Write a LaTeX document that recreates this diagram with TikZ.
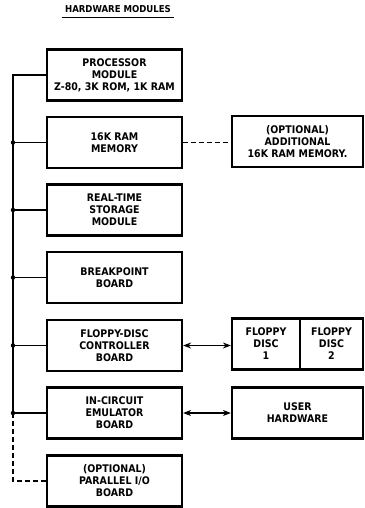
\documentclass[tikz,border=0pt]{standalone}
\usepackage{fontspec}
\setmainfont{DejaVu Sans Condensed}
\usetikzlibrary{arrows.meta}
\tikzset{
  box/.style={draw, line width=2.2pt, minimum width=135pt, minimum height=51pt, inner sep=0pt,
    align=center, font=\bfseries\fontsize{10.5}{12}\selectfont},
  rbox/.style={box, minimum width=131pt},
  conn/.style={line width=1.5pt},
  dconn/.style={conn, dash pattern=on 5pt off 3pt},
  dot/.style={circle, fill, inner sep=0pt, minimum size=4.5pt},
  biarrow/.style={conn, {Stealth[length=8pt,width=6pt]}-{Stealth[length=8pt,width=6pt]}}
}
\begin{document}
\begin{tikzpicture}[x=1pt,y=-1pt]
\useasboundingbox (0,0) rectangle (364,508);
\node[font=\bfseries\fontsize{9.5}{11}\selectfont] (title) at (118,9.5) {HARDWARE MODULES};
\draw[line width=1.2pt] ([yshift=-1.2pt]title.south west) -- ([yshift=-1.2pt]title.south east);
\node[box] (proc) at (114.5,75) {PROCESSOR\\MODULE\\Z-80, 3K ROM, 1K RAM};
\node[box] (ram) at (114.5,142.5) {16K RAM\\MEMORY};
\node[box] (rt) at (114.5,210) {REAL-TIME\\STORAGE\\MODULE};
\node[box] (bp) at (114.5,277.5) {BREAKPOINT\\BOARD};
\node[box] (fdc) at (114.5,345.5) {FLOPPY-DISC\\CONTROLLER\\BOARD};
\node[box] (ice) at (114.5,413) {IN-CIRCUIT\\EMULATOR\\BOARD};
\node[box] (pio) at (114.5,481) {(OPTIONAL)\\PARALLEL I/O\\BOARD};
\node[rbox] (opt) at (297.5,141.5) {(OPTIONAL)\\ADDITIONAL\\16K RAM MEMORY.};
\node[box, minimum width=68pt] (fd1) at (266,344) {FLOPPY\\DISC\\1};
\node[box, minimum width=63pt] (fd2) at (331.5,344) {FLOPPY\\DISC\\2};
\node[rbox] (user) at (297.5,413) {USER\\HARDWARE};
\coordinate (bus) at (13,0);
\coordinate (busend) at (bus |- pio.west);
\draw[conn] (proc.west) -- (bus |- proc.west) -- (bus |- ice.west) -- (ice.west);
\foreach \n in {ram,rt,bp,fdc,ice}{
  \draw[conn] (bus |- \n.west) -- (\n.west);
  \node[dot] at (bus |- \n.west) {};
}
\draw[dconn] (bus |- ice.west) -- (busend) -- (pio.west);
\draw[dconn] (ram.east) -- (opt.west |- ram.east);
\draw[biarrow] (fdc.east) -- (fd1.west |- fdc.east);
\draw[biarrow] (ice.east) -- (user.west);
\end{tikzpicture}
\end{document}
